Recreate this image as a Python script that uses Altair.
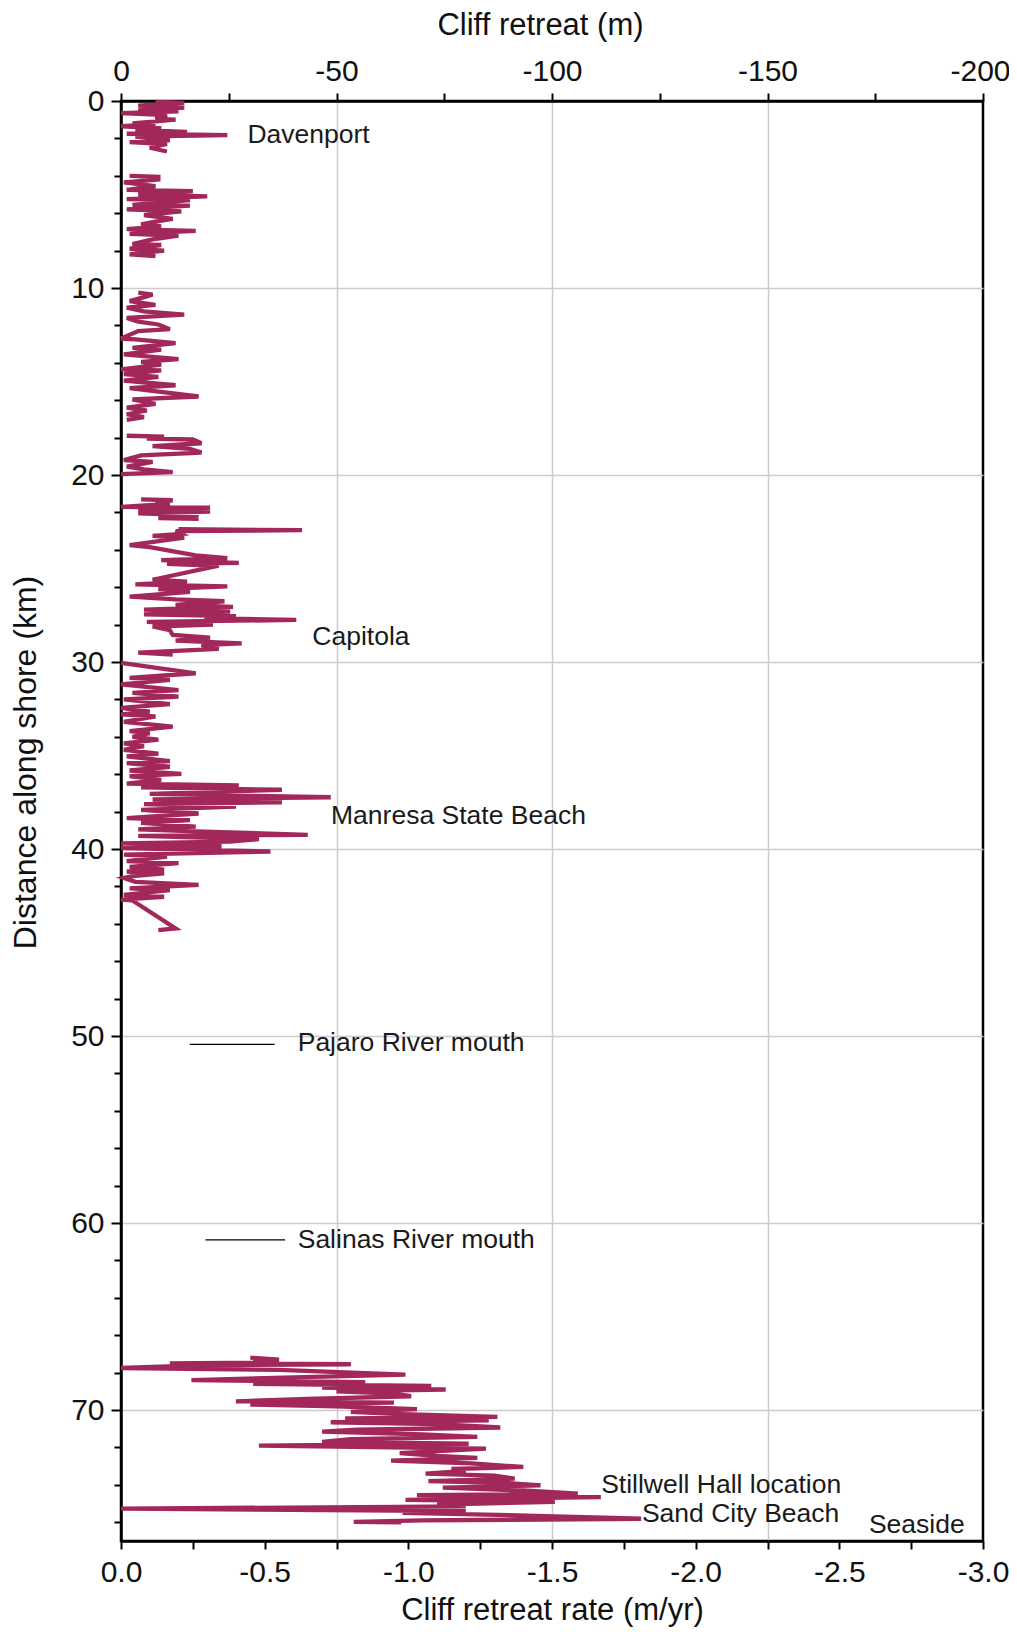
import altair as alt
import pandas as pd

# ---- cliff retreat rate (m/yr) vs distance along shore (km), by contiguous segment ----
seg_a_km = [0.05, 0.1, 0.25, 0.35, 0.5, 0.55, 0.65, 0.75, 0.95, 1.0, 1.2, 1.25, 1.35, 1.45, 1.55, 1.65, 1.75, 1.82, 1.9, 2.1, 2.2, 2.3, 2.5, 2.7]
seg_a_rate = [-0.12, -0.22, -0.06, -0.22, -0.06, -0.20, 0.0, -0.16, -0.12, -0.19, -0.04, -0.12, 0.0, -0.14, -0.05, -0.23, -0.02, -0.37, -0.05, -0.17, -0.03, -0.16, -0.10, -0.16]

seg_b_km = [4.0, 4.05, 4.2, 4.35, 4.55, 4.75, 4.82, 5.0, 5.1, 5.25, 5.3, 5.55, 5.6, 5.8, 5.9, 6.1, 6.3, 6.45, 6.6, 6.7, 6.85, 6.95, 7.1, 7.2, 7.4, 7.65, 7.7, 7.9, 8.0, 8.2, 8.3]
seg_b_rate = [-0.03, -0.13, -0.13, -0.01, -0.12, -0.02, -0.25, -0.06, -0.30, -0.02, -0.24, -0.04, -0.24, -0.02, -0.21, -0.08, -0.18, -0.12, -0.07, -0.14, -0.02, -0.26, -0.03, -0.20, -0.11, -0.04, -0.14, -0.03, -0.15, -0.03, -0.12]

seg_c_km = [10.25, 10.35, 10.45, 10.7, 10.9, 11.05, 11.25, 11.42, 11.6, 11.8, 11.95, 12.2, 12.3, 12.7, 12.75, 12.95, 13.2, 13.3, 13.55, 13.8, 13.95, 14.1, 14.35, 14.4, 14.6, 14.75, 14.95, 15.2, 15.35, 15.6, 15.8, 15.95, 16.2, 16.4, 16.55, 16.75, 16.9, 17.05]
seg_c_rate = [-0.06, -0.11, -0.09, -0.03, -0.12, -0.02, -0.08, -0.22, -0.02, -0.06, -0.13, -0.17, -0.06, 0.0, -0.05, -0.19, -0.04, -0.14, -0.01, -0.20, -0.07, -0.14, 0.0, -0.14, -0.01, -0.13, -0.01, -0.19, -0.03, -0.16, -0.27, -0.04, -0.12, -0.02, -0.09, -0.02, -0.08, -0.02]

seg_d_km = [17.9, 17.95, 18.05, 18.1, 18.3, 18.45, 18.6, 18.8, 18.95, 19.2, 19.3, 19.55, 19.7, 19.85, 19.95]
seg_d_rate = [-0.02, -0.15, -0.09, -0.25, -0.28, -0.11, -0.24, -0.28, -0.07, -0.01, -0.11, -0.02, -0.08, -0.18, 0.0]

seg_e_km = [21.3, 21.35, 21.45, 21.55, 21.7, 21.75, 21.85, 21.95, 22.05, 22.15, 22.3, 22.35]
seg_e_rate = [-0.07, -0.18, -0.12, -0.17, 0.0, -0.31, -0.06, -0.31, -0.06, -0.27, -0.13, -0.27]

seg_f_km = [22.9, 22.95, 23.0, 23.15, 23.25, 23.35, 23.75, 23.85, 24.3, 24.45, 24.55, 24.7, 24.75, 24.85, 25.6, 25.7, 25.85, 25.95, 26.1, 26.25, 26.5, 26.65, 26.75, 26.95, 27.05, 27.2, 27.3, 27.45, 27.55, 27.65, 27.75, 27.85, 28.0, 28.1, 28.3, 28.55, 28.7, 28.85, 29.0, 29.1, 29.3, 29.5, 29.6]
seg_f_rate = [-0.20, -0.63, -0.19, -0.21, -0.11, -0.22, -0.03, -0.10, -0.26, -0.37, -0.14, -0.41, -0.16, -0.34, -0.11, -0.23, -0.05, -0.37, -0.13, -0.24, -0.03, -0.19, -0.36, -0.19, -0.39, -0.08, -0.38, -0.08, -0.40, -0.29, -0.61, -0.09, -0.32, -0.11, -0.17, -0.18, -0.31, -0.19, -0.42, -0.28, -0.34, -0.06, -0.18]

seg_g_km = [30.05, 30.6, 30.85, 30.95, 31.2, 31.5, 31.65, 31.85, 32.0, 32.25, 32.45, 32.65, 32.8, 32.9, 33.2, 33.45, 33.7, 33.8, 34.0, 34.15, 34.35, 34.5, 34.7, 34.9, 35.05, 35.3, 35.4, 35.6, 35.8, 35.98, 36.1, 36.3, 36.5, 36.6, 36.7, 36.83, 37.05, 37.23, 37.35, 37.5, 37.6, 37.73, 37.9, 38.1, 38.35, 38.45, 38.6, 38.8, 38.95, 39.05, 39.24, 39.3, 39.47, 39.6, 39.7, 39.85, 39.95, 40.13, 40.3, 40.4, 40.65, 40.75, 40.95, 41.1, 41.2, 41.3, 41.45, 41.55, 41.75, 41.92, 42.1, 42.2, 42.45, 42.55, 42.7, 42.75, 44.24, 44.33]
seg_g_rate = [0.0, -0.26, -0.03, -0.17, 0.0, -0.20, -0.04, -0.20, -0.01, -0.17, 0.0, -0.10, 0.0, -0.12, -0.01, -0.18, -0.03, -0.10, -0.04, -0.13, -0.01, -0.08, -0.01, -0.13, -0.02, -0.17, -0.02, -0.17, -0.03, -0.21, -0.03, -0.14, -0.02, -0.41, -0.07, -0.56, -0.10, -0.73, -0.11, -0.56, -0.08, -0.40, -0.07, -0.27, -0.02, -0.24, -0.07, -0.26, -0.06, -0.26, -0.65, -0.06, -0.48, -0.38, 0.0, -0.35, 0.0, -0.52, -0.01, -0.16, -0.02, -0.20, -0.03, -0.15, -0.02, -0.15, -0.04, -0.01, -0.05, -0.27, -0.03, -0.17, -0.01, -0.15, 0.0, -0.04, -0.19, -0.13]

seg_h_km = [67.2, 67.3, 67.35, 67.45, 67.5, 67.55, 67.6, 67.75, 67.85, 68.1, 68.25, 68.4, 68.5, 68.6, 68.7, 68.8, 68.9, 69.0, 69.1, 69.26, 69.4, 69.53, 69.6, 69.7, 69.8, 69.95, 70.1, 70.2, 70.36, 70.45, 70.55, 70.65, 70.75, 70.93, 71.05, 71.15, 71.3, 71.43, 71.55, 71.7, 71.8, 71.9, 72.06, 72.3, 72.45, 72.56, 72.7, 72.85, 73.04, 73.15, 73.25, 73.4, 73.5, 73.67, 73.8, 73.9, 74.02, 74.15, 74.3, 74.47, 74.55, 74.65, 74.8, 74.9, 75.05, 75.15, 75.27, 75.4, 75.5, 75.63, 75.81, 75.9, 75.98, 76.0]
seg_h_rate = [-0.45, -0.55, -0.46, -0.55, -0.17, -0.80, -0.30, 0.0, -0.55, -0.99, -0.60, -0.245, -0.85, -0.46, -1.08, -0.70, -1.13, -0.75, -0.93, -1.01, -0.65, -0.40, -0.95, -0.45, -0.75, -1.03, -0.80, -0.95, -1.31, -0.78, -1.28, -0.73, -1.10, -1.32, -0.82, -0.70, -1.05, -1.24, -0.80, -0.70, -1.21, -0.48, -1.27, -0.97, -1.10, -1.24, -0.94, -1.22, -1.40, -1.15, -1.20, -1.06, -1.30, -1.37, -1.07, -1.35, -1.46, -1.12, -1.40, -1.59, -1.03, -1.67, -0.99, -1.51, -1.10, -1.20, 0.0, -1.20, -0.98, -1.38, -1.81, -1.05, -0.81, -0.975]

# ---- annotations ----
place_names = ["Davenport", "Capitola", "Manresa State Beach", "Pajaro River mouth", "Salinas River mouth", "Stillwell Hall location", "Sand City Beach", "Seaside"]
place_rate = [-0.440, -0.666, -0.731, -0.615, -0.615, -1.671, -1.813, -2.603]
place_km = [1.84, 28.68, 38.25, 50.38, 60.9, 73.99, 75.55, 76.16]

river_km = [50.44, 60.9]
river_rate_start = [-0.239, -0.294]
river_rate_end = [-0.535, -0.571]

# axis tick values
y_ticks = list(range(0, 78, 2))
rate_ticks = [-0.25 * i for i in range(13)]
retreat_ticks = [-25 * i for i in range(9)]

segments = [
    ("A", seg_a_km, seg_a_rate), ("B", seg_b_km, seg_b_rate), ("C", seg_c_km, seg_c_rate),
    ("D", seg_d_km, seg_d_rate), ("E", seg_e_km, seg_e_rate), ("F", seg_f_km, seg_f_rate),
    ("G", seg_g_km, seg_g_rate), ("H", seg_h_km, seg_h_rate),
]
rows = []
i = 0
for name, kms, rates in segments:
    for k, r in zip(kms, rates):
        rows.append({"seg": name, "km": k, "rate": r, "idx": i})
        i += 1
line_df = pd.DataFrame(rows)
label_df = pd.DataFrame({"name": place_names, "rate": place_rate, "km": place_km})
river_df = pd.DataFrame({"km": river_km, "rate": river_rate_start, "r2": river_rate_end})
top_df = pd.DataFrame({"m": [0, -200]})

FONT = "Liberation Sans"
TXT = "#111111"
rate_scale = alt.Scale(domain=[0, -3], nice=False, zero=False)
y_scale = alt.Scale(domain=[0, 77], reverse=True, nice=False, zero=False)

y_axis = alt.Axis(
    values=y_ticks,
    labelExpr="datum.value % 10 === 0 ? datum.label : ''",
    labelOverlap=False, labelFlush=False,
    tickSize={"condition": {"test": "datum.value % 10 === 0", "value": 10}, "value": 7},
    tickColor="black", tickWidth=2,
    grid=True,
    gridOpacity={"condition": {"test": "datum.value % 10 === 0 && datum.value > 0", "value": 1}, "value": 0},
    gridColor="#cccccc", gridWidth=1.5,
    domainColor="black", domainWidth=2.5,
    labelFontSize=30, labelPadding=7, labelColor=TXT, labelFont=FONT,
    title="Distance along shore (km)", titleFontSize=32, titleFontWeight="normal",
    titleColor=TXT, titleFont=FONT,
    titleX=-96, titleY=661, titleBaseline="middle", titleAngle=270,
)

x_axis = alt.Axis(
    orient="bottom",
    values=rate_ticks,
    labelExpr="abs(datum.value*2 - round(datum.value*2)) < 0.001 ? (datum.value == 0 ? '0.0' : '-' + format(-datum.value, '.1f')) : ''",
    labelOverlap=False, labelFlush=False,
    tickSize=8, tickColor="black", tickWidth=2,
    grid=False,
    domainColor="black", domainWidth=2.5,
    labelFontSize=30, labelPadding=8, labelColor=TXT, labelFont=FONT,
    title="Cliff retreat rate (m/yr)", titleFontSize=31, titleFontWeight="normal",
    titleColor=TXT, titleFont=FONT,
    titleY=78, titleBaseline="alphabetic",
)

top_axis = alt.Axis(
    orient="top",
    values=retreat_ticks,
    labelExpr="datum.value % 50 === 0 ? (datum.value == 0 ? '0' : '-' + format(-datum.value, 'd')) : ''",
    labelOverlap=False, labelFlush=False,
    labelAlign={"condition": {"test": "datum.value == -200", "value": "right"}, "value": "center"},
    labelOffset={"condition": {"test": "datum.value == -200", "value": 27}, "value": 0},
    tickSize=8, tickColor="black", tickWidth=2,
    grid=True,
    gridOpacity={"condition": {"test": "datum.value % 50 === 0 && datum.value < 0 && datum.value > -200", "value": 1}, "value": 0},
    gridColor="#cccccc", gridWidth=1.5,
    domainColor="black", domainWidth=2.5,
    labelFontSize=30, labelPadding=7, labelColor=TXT, labelFont=FONT,
    title="Cliff retreat (m)", titleFontSize=31, titleFontWeight="normal",
    titleColor=TXT, titleFont=FONT,
    titleX=419, titleY=-67, titleBaseline="alphabetic",
)

X = alt.X("rate:Q", scale=rate_scale, axis=x_axis, title="Cliff retreat rate (m/yr)")
Y = alt.Y("km:Q", scale=y_scale, axis=y_axis, title="Distance along shore (km)")

line = alt.Chart(line_df).mark_line(color="#A2285C", strokeWidth=4.3, strokeCap="butt").encode(
    x=X, y=Y, detail="seg:N", order="idx:Q",
)

rules = alt.Chart(river_df).mark_rule(color="black", strokeWidth=1.2).encode(
    x=X, x2="r2:Q", y=Y,
)

labels = alt.Chart(label_df).mark_text(
    align="left", baseline="middle", fontSize=26.5, font=FONT, color="#1a1a1a"
).encode(
    x=X, y=Y, text="name:N",
)

top = alt.Chart(top_df).mark_point(opacity=0).encode(
    x=alt.X("m:Q", scale=alt.Scale(domain=[0, -200], nice=False, zero=False), axis=top_axis, title="Cliff retreat (m)"),
)

base = alt.layer(line, rules, labels)
chart = alt.layer(base, top).resolve_scale(x="independent").properties(
    width=862,
    height=1440,
    autosize=alt.AutoSizeParams(type="none"),
    padding={"left": 113, "top": 93, "right": 26, "bottom": 86},
).configure(font=FONT).configure_view(stroke="black", strokeWidth=2.5)

chart.save("out.html", embed_options={"renderer": "svg", "actions": False})
